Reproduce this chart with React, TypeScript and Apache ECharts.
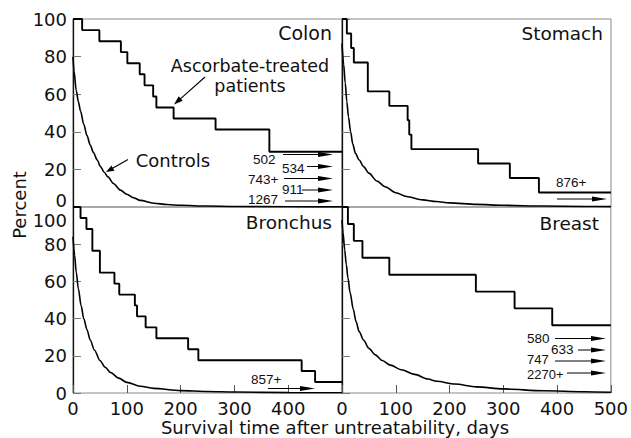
import React, { useEffect, useRef } from 'react';
import * as echarts from 'echarts';

// ---- data (days, percent surviving) ----
const dayTicks = [0, 100, 200, 300, 400, 500];
const percentTicks = [0, 20, 40, 60, 80, 100];
const panelTitles = ['Colon', 'Stomach', 'Bronchus', 'Breast'];

const colonTreated: [number, number][] = [
  [0, 100], [17, 94.1], [49, 88.2], [89, 82.4], [101, 76.5], [124, 70.6], [133, 64.7],
  [149, 58.8], [155, 52.9], [187, 47.1], [265, 41.2], [365, 29.4], [500, 29.4],
];
const colonControls: [number, number][] = [
  [0, 80], [2, 72], [6, 62], [10, 56], [14, 51], [20, 44], [26, 38], [32, 33], [38, 29],
  [45, 25], [51, 21.5], [58, 18.5], [65, 16], [75, 12.5], [88, 9], [100, 6.8], [112, 5],
  [125, 3.5], [150, 2], [175, 1.3], [200, 0.9], [250, 0.5], [300, 0.3], [400, 0.1], [500, 0.05],
];
const stomachTreated: [number, number][] = [
  [0, 100], [9, 92.3], [17, 84.6], [22, 76.9], [48, 61.5], [88, 53.8], [122, 46.2],
  [125, 38.5], [129, 30.8], [253, 23.1], [312, 15.4], [366, 7.7], [500, 7.7],
];
const stomachControls: [number, number][] = [
  [0, 87], [3, 76], [6, 66], [9, 56], [12, 48], [16, 40], [20, 33.5], [25, 28.5], [32, 25],
  [40, 21.5], [50, 18], [65, 13.8], [80, 10.8], [100, 7.6], [120, 5.6], [150, 3.8], [175, 2.9],
  [200, 2.2], [250, 1.4], [300, 0.9], [375, 0.5], [450, 0.3], [500, 0.2],
];
const bronchusTreated: [number, number][] = [
  [0, 100], [14, 94.1], [25, 88.2], [36, 76.5], [50, 64.7], [77, 58.8], [86, 52.9],
  [115, 47.1], [119, 41.2], [135, 35.3], [155, 29.4], [214, 23.5], [233, 17.6],
  [425, 11.8], [450, 5.9], [500, 5.9],
];
const bronchusControls: [number, number][] = [
  [0, 84], [3, 74], [6, 65], [10, 56], [15, 47], [20, 40], [26, 34], [32, 28.5], [40, 23],
  [50, 17.5], [60, 13.8], [70, 11], [85, 8], [100, 5.7], [125, 3.6], [150, 2.5], [200, 1.3],
  [250, 0.8], [300, 0.5], [400, 0.2], [500, 0.1],
];
const breastTreated: [number, number][] = [
  [0, 100], [11, 90.9], [22, 81.8], [38, 72.7], [88, 63.6], [249, 54.5], [321, 45.5],
  [391, 36.4], [500, 36.4],
];
const breastControls: [number, number][] = [
  [0, 93], [2, 86], [5, 77], [8, 69], [11, 62], [15, 54], [21, 45], [26, 38.5], [32, 33],
  [40, 28.5], [50, 24], [62, 20.5], [75, 17.5], [90, 15], [110, 12.5], [135, 10], [160, 7.5],
  [176, 6.3], [210, 4.8], [250, 3.3], [300, 2.2], [375, 1.2], [450, 0.7], [500, 0.4],
];

const colonCensored = ['502', '534', '743+', '911', '1267'];
const stomachCensored = ['876+'];
const bronchusCensored = ['857+'];
const breastCensored = ['580', '633', '747', '2270+'];

const treated = [colonTreated, stomachTreated, bronchusTreated, breastTreated];
const controls = [colonControls, stomachControls, bronchusControls, breastControls];

const BIG = '"DejaVu Sans", sans-serif';
const SMALL = '"Liberation Sans", Arial, sans-serif';
const TICK_SIZE = 18;

function arrowHead(x1: number, y1: number, x2: number, y2: number, len: number, hw: number) {
  const dx = x2 - x1, dy = y2 - y1, d = Math.hypot(dx, dy);
  const ux = dx / d, uy = dy / d;
  const bx = x2 - ux * len, by = y2 - uy * len;
  return {
    type: 'polygon', z: 20, silent: true,
    shape: { points: [[x2, y2], [bx - uy * hw, by + ux * hw], [bx + uy * hw, by - ux * hw]] },
    style: { fill: '#000' },
  };
}
function arrow(x1: number, y1: number, x2: number, y2: number, len: number, hw: number, lw: number) {
  const dx = x2 - x1, dy = y2 - y1, d = Math.hypot(dx, dy);
  const ex = x2 - (dx / d) * len * 0.7, ey = y2 - (dy / d) * len * 0.7;
  return [
    { type: 'line', z: 20, silent: true, shape: { x1, y1, x2: ex, y2: ey }, style: { stroke: '#000', lineWidth: lw } },
    arrowHead(x1, y1, x2, y2, len, hw),
  ];
}
function smallText(text: string, x: number, y: number, size = 13.5) {
  return {
    type: 'text', z: 20, silent: true, x, y,
    style: { text, fontFamily: SMALL, fontSize: size, lineHeight: 11, fill: '#111', textAlign: 'left', textVerticalAlign: 'middle' },
  };
}
function bigText(text: string, x: number, y: number, align: string, size = 17) {
  return {
    type: 'text', z: 20, silent: true, x, y,
    style: { text, fontFamily: BIG, fontSize: size, fill: '#111', textAlign: align, textVerticalAlign: 'middle' },
  };
}

export default function App() {
  const ref = useRef<HTMLDivElement>(null);
  useEffect(() => {
    if (!ref.current) return;
    const chart = echarts.init(ref.current, null, { renderer: 'svg' });
    const grids = [
      { left: 73, top: 19, width: 269, height: 188 },
      { left: 342, top: 19, width: 269, height: 188 },
      { left: 73, top: 207, width: 269, height: 186 },
      { left: 342, top: 207, width: 269, height: 186 },
    ].map((g) => ({ ...g, show: true, borderColor: '#8a8a8a', borderWidth: 1, backgroundColor: 'transparent', containLabel: false }));

    const xAxis = [0, 1, 2, 3].map((i) => ({
      type: 'value', gridIndex: i, min: dayTicks[0], max: dayTicks[dayTicks.length - 1], interval: 100,
      axisLine: { show: false }, splitLine: { show: false },
      axisTick: { show: i >= 2, inside: true, length: 8, lineStyle: { color: '#555', width: 1 } },
      axisLabel: {
        show: i >= 2, margin: 6, fontFamily: BIG, fontSize: TICK_SIZE, color: '#111',
        formatter: (v: number) => (i === 2 && v === 500 ? '' : String(v)),
      },
    }));
    const richBase = { fontFamily: BIG, fontSize: TICK_SIZE, color: '#111', lineHeight: 20 };
    const yAxis = [0, 1, 2, 3].map((i) => ({
      type: 'value', gridIndex: i, min: percentTicks[0], max: percentTicks[percentTicks.length - 1], interval: 20,
      axisLine: { show: true, lineStyle: { color: '#111', width: 1.3 } },
      splitLine: { show: false },
      axisTick: { show: true, inside: true, length: 8, lineStyle: { color: '#777', width: 1 } },
      axisLabel: {
        show: i % 2 === 0, margin: 6, fontFamily: BIG, fontSize: TICK_SIZE, color: '#111',
        formatter: (v: number) => {
          if (i === 0 && v === 0) return `{n|${v}}\n{sp1| }`;
          if (i === 2 && v === 100) return `{sp2| }\n{n|${v}}`;
          return `{n|${v}}`;
        },
        rich: {
          n: { ...richBase },
          sp1: { ...richBase, fontSize: 4, lineHeight: 14 },
          sp2: { ...richBase, fontSize: 4, lineHeight: 27 },
        },
      },
    }));

    const series: any[] = [];
    for (let i = 0; i < 4; i++) {
      series.push({
        type: 'line', xAxisIndex: i, yAxisIndex: i, data: treated[i], step: 'end',
        symbol: 'none', silent: true, lineStyle: { color: '#000', width: 1.9 },
      });
      series.push({
        type: 'line', xAxisIndex: i, yAxisIndex: i, data: controls[i], smooth: 0.3, smoothMonotone: 'x',
        symbol: 'none', silent: true, lineStyle: { color: '#000', width: 1.6 },
      });
    }

    const graphic: any[] = [
      bigText(panelTitles[0], 332, 33, 'right', 19),
      bigText(panelTitles[1], 603, 33, 'right', 18.5),
      bigText(panelTitles[2], 332, 222, 'right', 18.5),
      bigText(panelTitles[3], 599, 223, 'right', 18.5),
      bigText('Ascorbate-treated', 250, 66, 'center', 17.5),
      bigText('patients', 250, 86, 'center', 17.5),
      bigText('Controls', 173, 160, 'center', 18),
      ...arrow(205, 77, 174, 104.5, 9, 3, 1.1),
      ...arrow(128, 159.5, 106, 172, 8, 3, 1.1),
      {
        type: 'text', z: 20, silent: true, x: 19, y: 205, rotation: Math.PI / 2,
        style: { text: 'Percent', fontFamily: BIG, fontSize: 18, fill: '#111', textAlign: 'center', textVerticalAlign: 'middle' },
      },
      bigText('Survival time after untreatability, days', 335, 427, 'center', 18),
      // Colon censored
      smallText(colonCensored[0], 253, 159), ...arrow(283, 154.5, 333, 154.5, 15, 2.5, 1),
      smallText(colonCensored[1], 282, 168), ...arrow(307, 166.5, 333, 166.5, 15, 2.5, 1),
      smallText(colonCensored[2], 248, 179), ...arrow(284, 178.5, 333, 178.5, 15, 2.5, 1),
      smallText(colonCensored[3], 282, 189.5), ...arrow(302, 190, 333, 190, 15, 2.5, 1),
      smallText(colonCensored[4], 248, 199.5), ...arrow(285, 201, 333, 201, 15, 2.5, 1),
      // Stomach
      smallText(stomachCensored[0], 556, 182), ...arrow(557, 199, 607, 199, 15, 2.5, 1),
      // Bronchus
      smallText(bronchusCensored[0], 251, 379), ...arrow(268, 388.5, 315, 388.5, 15, 2.5, 1),
      // Breast
      smallText(breastCensored[0], 527, 338), ...arrow(555, 338.5, 606, 338.5, 15, 2.5, 1),
      smallText(breastCensored[1], 551, 349.5), ...arrow(578, 350, 606, 350, 15, 2.5, 1),
      smallText(breastCensored[2], 527, 359.5, 13), ...arrow(555, 361, 606, 361, 15, 2.5, 1),
      smallText(breastCensored[3], 527, 374.5, 13), ...arrow(567, 373, 606, 373, 15, 2.5, 1),
    ];

    chart.setOption({
      animation: false,
      backgroundColor: '#fff',
      grid: grids,
      xAxis,
      yAxis,
      series,
      graphic,
    });
    return () => chart.dispose();
  }, []);
  return <div ref={ref} style={{ position: 'absolute', left: 0, top: 0, width: 631, height: 438 }} />;
}
